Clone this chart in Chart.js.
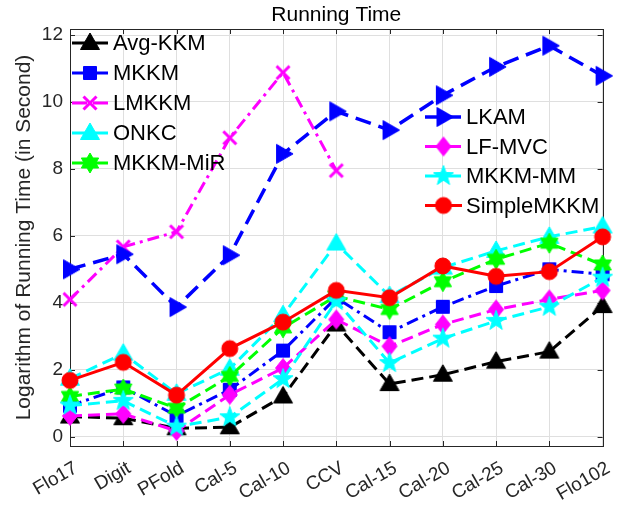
<!DOCTYPE html>
<html><head><meta charset="utf-8">
<script src="https://cdn.jsdelivr.net/npm/chart.js@4/dist/chart.umd.min.js"></script>
<style>html,body{margin:0;padding:0;background:#fff;}#wrap{width:625px;height:508px;position:relative;}</style>
</head><body><div id="wrap"><canvas id="c" width="625" height="508"></canvas></div>
<script>
const categories = ['Flo17','Digit','PFold','Cal-5','Cal-10','CCV','Cal-15','Cal-20','Cal-25','Cal-30','Flo102'];
const yTicks = [0,2,4,6,8,10,12];
const avgKKM     = [0.60,0.55,0.25,0.28,1.20,3.35,1.57,1.85,2.24,2.54,3.90];
const mkkm       = [0.92,1.47,0.62,1.40,2.57,4.15,3.12,3.88,4.50,5.00,4.85];
const lmkkm      = [4.10,5.67,6.12,8.93,10.88,7.95];
const onkc       = [1.73,2.48,1.28,2.03,3.63,5.77,4.20,5.05,5.55,5.97,6.28];
const mkkmMiR    = [1.20,1.42,0.85,1.80,3.25,4.20,3.80,4.63,5.30,5.78,5.13];
const lkam       = [5.00,5.45,3.87,5.42,8.45,9.72,9.16,10.20,11.05,11.68,10.78];
const lfmvc      = [0.62,0.68,0.17,1.25,2.05,3.50,2.70,3.35,3.80,4.10,4.37];
const mkkmMM     = [0.93,1.07,0.30,0.58,1.72,4.05,2.20,2.93,3.46,3.88,4.75];
const simpleMKKM = [1.68,2.22,1.24,2.63,3.42,4.37,4.15,5.10,4.79,4.93,5.97];
const seriesNames = ['Avg-KKM','MKKM','LMKKM','ONKC','MKKM-MiR','LKAM','LF-MVC','MKKM-MM','SimpleMKKM'];
const seriesValues = [avgKKM,mkkm,lmkkm,onkc,mkkmMiR,lkam,lfmvc,mkkmMM,simpleMKKM];

const FONT = "'Liberation Sans', Arial, Helvetica, sans-serif";
const styles = [
  {color:'#000000', dash:[12,6], marker:'^', width:3},
  {color:'#0000ff', dash:[12,5,3,5], marker:'s', width:3},
  {color:'#ff00ff', dash:[12,5,3,5], marker:'x', width:3},
  {color:'#00ffff', dash:[12,6], marker:'^', width:3},
  {color:'#00ff00', dash:[12,6], marker:'h', width:3},
  {color:'#0000ff', dash:[16,8], marker:'>', width:3.5},
  {color:'#ff00ff', dash:[12,6], marker:'d', width:3},
  {color:'#00ffff', dash:[12,6], marker:'p', width:3},
  {color:'#ff0000', dash:[], marker:'o', width:3}
];

function poly(g, pts){ g.moveTo(pts[0][0],pts[0][1]); for(let i=1;i<pts.length;i++) g.lineTo(pts[i][0],pts[i][1]); g.closePath(); }
function star(n, R, r){ const pts=[]; for(let i=0;i<2*n;i++){ const a=-Math.PI/2+i*Math.PI/n; const rr=i%2?r:R; pts.push([rr*Math.cos(a), rr*Math.sin(a)]); } return pts; }
function makeMarker(shape, color){
  const S=28, c=document.createElement('canvas'); c.width=S; c.height=S;
  const g=c.getContext('2d'); g.translate(S/2,S/2);
  g.fillStyle=color; g.strokeStyle=color; g.lineWidth=1; g.lineJoin='miter';
  g.beginPath();
  if(shape==='^') poly(g,[[0,-10],[9.5,6.5],[-9.5,6.5]]);
  else if(shape==='>') poly(g,[[10,0],[-6.5,-9.5],[-6.5,9.5]]);
  else if(shape==='s') poly(g,[[-6.5,-6.5],[6.5,-6.5],[6.5,6.5],[-6.5,6.5]]);
  else if(shape==='d') poly(g,[[0,-9.5],[7.5,0],[0,9.5],[-7.5,0]]);
  else if(shape==='p') poly(g,star(5,10.5,4.3));
  else if(shape==='h') poly(g,star(6,10,5.8));
  else if(shape==='o') g.arc(0,0,8,0,Math.PI*2);
  if(shape==='x'){
    g.lineWidth=3; g.lineCap='butt';
    g.moveTo(-6.5,-6.5); g.lineTo(6.5,6.5); g.moveTo(6.5,-6.5); g.lineTo(-6.5,6.5); g.stroke();
  } else { g.fill(); g.stroke(); }
  return c;
}
const markers = styles.map(s=>makeMarker(s.marker, s.color));

const datasets = seriesNames.map((name,i)=>({
  label:name, data:seriesValues[i],
  borderColor:styles[i].color, backgroundColor:styles[i].color,
  borderWidth:styles[i].width, borderDash:styles[i].dash,
  pointStyle:markers[i], pointRadius:10, pointHoverRadius:10,
  tension:0, fill:false, clip:false, order:seriesNames.length-1-i
}));

const boxPlugin = {
  id:'box',
  beforeDatasetsDraw(chart){
    const {ctx, chartArea:a, scales} = chart;
    ctx.save();
    ctx.strokeStyle='#262626'; ctx.lineWidth=1;
    ctx.strokeRect(Math.round(a.left)+0.5, Math.round(a.top)+0.5, Math.round(a.right-a.left), Math.round(a.bottom-a.top));
    ctx.beginPath();
    const tl=5;
    categories.forEach((c,i)=>{
      const x=Math.round(scales.x.getPixelForValue(i))+0.5;
      ctx.moveTo(x,a.bottom); ctx.lineTo(x,a.bottom-tl);
      ctx.moveTo(x,a.top); ctx.lineTo(x,a.top+tl);
    });
    yTicks.forEach(v=>{
      const y=Math.round(scales.y.getPixelForValue(v))+0.5;
      ctx.moveTo(a.left,y); ctx.lineTo(a.left+tl,y);
      ctx.moveTo(a.right,y); ctx.lineTo(a.right-tl,y);
    });
    ctx.stroke();
    ctx.restore();
  },
  afterDraw(chart){
    const {ctx, chartArea:a} = chart;
    ctx.save();
    ctx.fillStyle='#000'; ctx.font='21px '+FONT; ctx.textAlign='center'; ctx.textBaseline='middle';
    ctx.fillText('Running Time',(a.left+a.right)/2,15);
    const groups=[
      {idx:[0,1,2,3,4], x0:72, x1:108, tx:113, y0:43, dy:30},
      {idx:[5,6,7,8], x0:425, x1:462, tx:466, y0:117, dy:29.5}
    ];
    ctx.font='22px '+FONT; ctx.textAlign='left';
    groups.forEach(gp=>{
      gp.idx.forEach((k,j)=>{
        const y=gp.y0+j*gp.dy, s=styles[k];
        ctx.save();
        ctx.strokeStyle=s.color; ctx.lineWidth=s.width;
        ctx.setLineDash(s.dash.length? [15,6]: []);
        ctx.beginPath(); ctx.moveTo(gp.x0,y); ctx.lineTo(gp.x1,y); ctx.stroke();
        ctx.restore();
        const m=markers[k];
        ctx.drawImage(m,(gp.x0+gp.x1)/2-m.width/2,y-m.height/2);
        ctx.fillStyle='#000';
        ctx.fillText(seriesNames[k],gp.tx,y+1);
      });
    });
    ctx.restore();
  }
};

new Chart(document.getElementById('c'),{
  type:'line',
  data:{labels:categories, datasets},
  options:{
    responsive:false, animation:false, devicePixelRatio:1,
    layout:{padding:{top:29,right:22,left:0,bottom:0}},
    plugins:{legend:{display:false}, title:{display:false}, tooltip:{enabled:false}},
    scales:{
      x:{type:'category', offset:false,
        grid:{color:'#dfdfdf', lineWidth:1, drawTicks:false, offset:false},
        border:{display:false},
        ticks:{font:{family:FONT,size:19}, color:'#262626', minRotation:30, maxRotation:30, padding:11, labelOffset:6, autoSkip:false},
        afterFit(s){ s.height=62; }
      },
      y:{type:'linear', min:-0.28, max:12.18,
        afterBuildTicks(s){ s.ticks=yTicks.map(v=>({value:v})); },
        grid:{color:'#dfdfdf', lineWidth:1, drawTicks:false},
        border:{display:false},
        ticks:{font:{family:FONT,size:19}, color:'#262626', padding:7},
        title:{display:true, text:'Logarithm of Running Time (in Second)', font:{family:FONT,size:21}, color:'#262626', padding:{top:12,bottom:0}},
        afterFit(s){ s.width=70; }
      }
    }
  },
  plugins:[boxPlugin]
});
</script></body></html>
